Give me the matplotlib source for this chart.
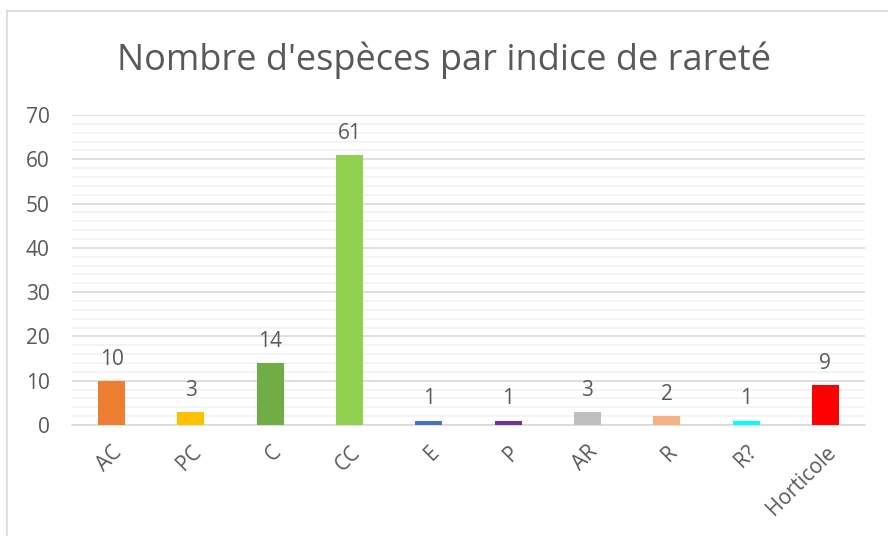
import matplotlib.pyplot as plt
from matplotlib.lines import Line2D
from matplotlib.ticker import MultipleLocator

# Nombre d'espèces par indice de rareté
categories = ['AC', 'PC', 'C', 'CC', 'E', 'P', 'AR', 'R', 'R?', 'Horticole']
counts = [10, 3, 14, 61, 1, 1, 3, 2, 1, 9]
bar_colors = ['#ED7D31', '#FFC000', '#70AD47', '#92D050', '#4472C4',
              '#7030A0', '#BFBFBF', '#F4B183', '#00FFFF', '#FF0000']

plt.rcParams['font.family'] = ['Open Sans', 'DejaVu Sans']
text_color = '#595959'

fig = plt.figure(figsize=(8.88, 5.36), dpi=100)
ax = fig.add_axes([0.0811, 0.2071, 0.8930, 0.5783])

x = range(len(categories))
bars = ax.bar(x, counts, width=0.34, color=bar_colors, zorder=3)

for xi, v in zip(x, counts):
    ax.annotate(str(v), (xi, v), xytext=(0, 8), textcoords='offset points',
                ha='center', va='bottom', fontsize=15, color=text_color)

ax.set_xlim(-0.5, len(categories) - 0.5)
ax.set_ylim(0, 70)
ax.yaxis.set_major_locator(MultipleLocator(10))
ax.yaxis.set_minor_locator(MultipleLocator(2))
ax.grid(which='major', axis='y', color='#d9d9d9', linewidth=1.2, zorder=0)
ax.grid(which='minor', axis='y', color='#f2f2f2', linewidth=1.2, zorder=0)
ax.set_axisbelow(True)

for side in ['top', 'right', 'left']:
    ax.spines[side].set_visible(False)
ax.spines['bottom'].set_color('#d9d9d9')
ax.spines['bottom'].set_linewidth(1.2)

ax.set_xticks(list(x))
ax.set_xticklabels(categories, rotation=45, ha='right', rotation_mode='anchor')
ax.tick_params(axis='both', which='both', length=0, labelsize=15,
               labelcolor=text_color)
ax.tick_params(axis='x', pad=12)
ax.tick_params(axis='y', pad=16)

fig.text(0.5, 0.888, "Nombre d'espèces par indice de rareté", ha='center',
         va='center', fontsize=26, color=text_color)

# chart frame: only the left and top edges fall inside the image
fig.lines.append(Line2D([0.0084, 0.0084], [0.0, 0.980], transform=fig.transFigure,
                        color='#d9d9d9', linewidth=1.2))
fig.lines.append(Line2D([0.0084, 1.0], [0.980, 0.980], transform=fig.transFigure,
                        color='#d9d9d9', linewidth=1.2))

fig.savefig('out.png', dpi=100)
